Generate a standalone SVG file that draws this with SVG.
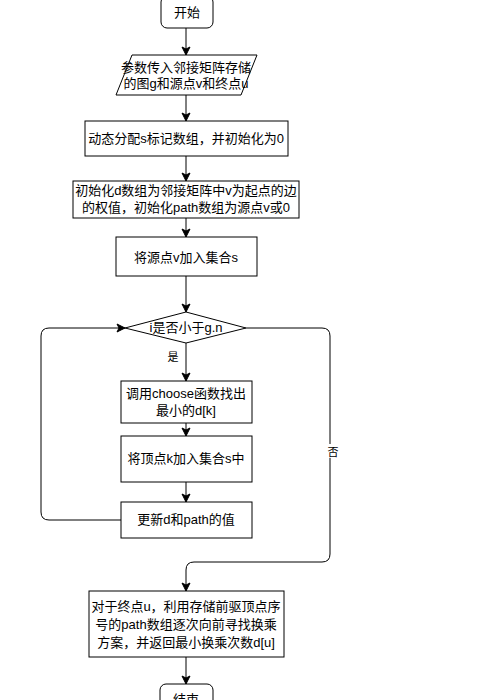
<svg xmlns="http://www.w3.org/2000/svg" width="499" height="700" viewBox="0 0 499 700">
<style>
.n{fill:#fff;stroke:#000;stroke-width:1}
.t{font-family:"Liberation Sans","Noto Sans CJK SC",sans-serif;font-size:13px;fill:#000;text-anchor:middle}
.l{font-family:"Liberation Sans","Noto Sans CJK SC",sans-serif;font-size:11px;fill:#000;text-anchor:middle}
.e{fill:none;stroke:#000;stroke-width:1}
</style>
<defs>
<marker id="a" markerUnits="userSpaceOnUse" markerWidth="10" markerHeight="10" refX="9" refY="5" orient="auto">
<path d="M1,1 L9,5 L1,9 L3,5 z" fill="#000" stroke="#000" stroke-width="1"/>
</marker>
</defs>
<rect width="499" height="700" fill="#fff"/>
<g id="connectors">
<path class="e" d="M186,28 L186,55" marker-end="url(#a)"/>
<path class="e" d="M186,95 L186,121" marker-end="url(#a)"/>
<path class="e" d="M186,156 L186,181" marker-end="url(#a)"/>
<path class="e" d="M186,218 L186,237" marker-end="url(#a)"/>
<path class="e" d="M186,276 L186,312" marker-end="url(#a)"/>
<path class="e" d="M186,343 L186,381" marker-end="url(#a)"/>
<path class="e" d="M186,423 L186,436" marker-end="url(#a)"/>
<path class="e" d="M186,482 L186,502" marker-end="url(#a)"/>
<path class="e" d="M121,520 L49,520 Q41,520 41,512 L41,336 Q41,328 49,328 L125,328" marker-end="url(#a)"/>
<path class="e" d="M246,328 L322,328 Q330,328 330,336 L330,554 Q330,562 322,562 L194,562 Q186,562 186,570 L186,591" marker-end="url(#a)"/>
<path class="e" d="M186,657 L186,684" marker-end="url(#a)"/>
<rect x="167" y="350" width="12" height="14" fill="#fff"/>
<text class="l" x="173" y="361">是</text>
<rect x="327" y="444" width="12" height="14" fill="#fff"/>
<text class="l" x="333" y="456">否</text>
</g>
<g id="start">
<rect class="n" x="161" y="-4" width="52" height="32" rx="6"/>
<text class="t" x="187" y="17">开始</text>
</g>
<g id="input">
<path class="n" d="M132,55 L257,55 L241,95 L116,95 Z"/>
<text class="t" x="186" y="72">参数传入邻接矩阵存储</text>
<text class="t" x="186" y="88">的图g和源点v和终点u</text>
</g>
<g id="alloc">
<rect class="n" x="85" y="121" width="203" height="35"/>
<text class="t" x="186" y="143">动态分配s标记数组，并初始化为0</text>
</g>
<g id="init">
<rect class="n" x="73" y="181" width="226" height="37"/>
<text class="t" x="186" y="195">初始化d数组为邻接矩阵中v为起点的边</text>
<text class="t" x="186" y="212">的权值，初始化path数组为源点v或0</text>
</g>
<g id="addsrc">
<rect class="n" x="116" y="237" width="141" height="39"/>
<text class="t" x="186" y="262">将源点v加入集合s</text>
</g>
<g id="cond">
<path class="n" d="M186,312 L246,328 L186,343 L125,328 Z"/>
<text class="t" x="186" y="332">i是否小于g.n</text>
</g>
<g id="choose">
<rect class="n" x="121" y="381" width="131" height="42"/>
<text class="t" x="186" y="398">调用choose函数找出</text>
<text class="t" x="186" y="415">最小的d[k]</text>
</g>
<g id="addk">
<rect class="n" x="121" y="436" width="131" height="46"/>
<text class="t" x="186" y="463">将顶点k加入集合s中</text>
</g>
<g id="update">
<rect class="n" x="121" y="502" width="131" height="36"/>
<text class="t" x="186" y="524">更新d和path的值</text>
</g>
<g id="result">
<rect class="n" x="89" y="591" width="195" height="66"/>
<text class="t" x="186" y="611">对于终点u，利用存储前驱顶点序</text>
<text class="t" x="186" y="629">号的path数组逐次向前寻找换乘</text>
<text class="t" x="186" y="647">方案，并返回最小换乘次数d[u]</text>
</g>
<g id="end">
<rect class="n" x="160" y="684" width="53" height="32" rx="6"/>
<text class="t" x="186" y="704">结束</text>
</g>
</svg>
